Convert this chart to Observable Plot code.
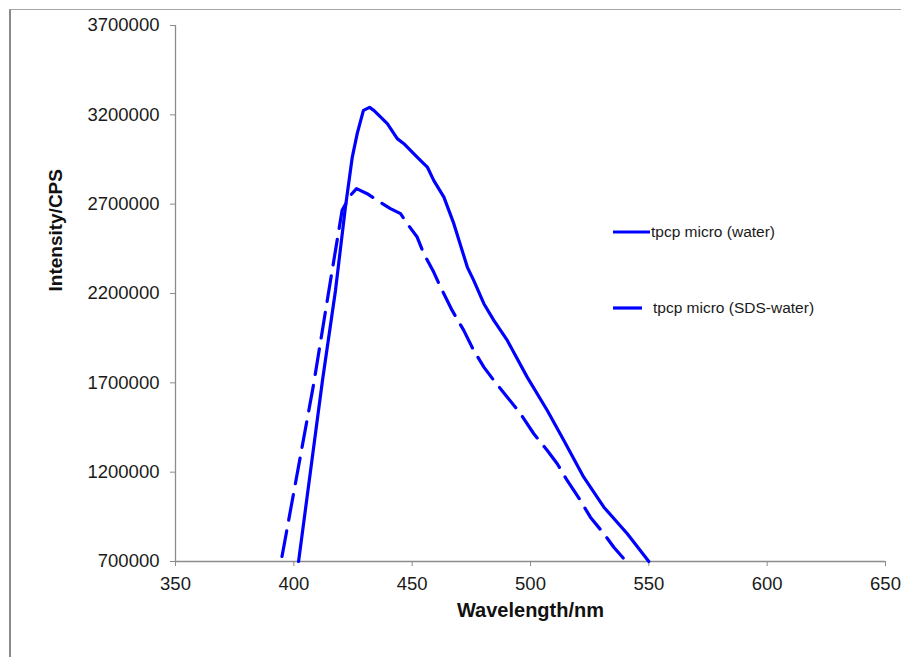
<!DOCTYPE html>
<html>
<head>
<meta charset="utf-8">
<script src="https://cdn.jsdelivr.net/npm/d3@7"></script>
<script src="https://cdn.jsdelivr.net/npm/@observablehq/plot@0.6"></script>
<style>
  html, body { margin: 0; padding: 0; background: #fff; overflow: hidden; }
  #wrap { position: relative; width: 901px; height: 657px; font-family: "Liberation Sans", Arial, sans-serif; }
  #frame { position: absolute; left: 9px; top: 9px; width: 1000px; height: 1000px;
           border-left: 2px solid #8a8a8a; border-top: 1px solid #a6a6a6; pointer-events: none; z-index: 2; }
  #legend { position: absolute; left: 0; top: 0; z-index: 3; }
</style>
</head>
<body>
<div id="wrap"><div id="frame"></div></div>
<script>
// ---- data ----
const waterNm = [402.0, 412.1, 417.6, 421.8, 424.7, 426.8, 429.4, 432.0, 433.8, 439.5, 443.7, 446.5, 449.3, 452.1, 456.4, 459.1, 463.4, 467.6, 473.3, 476.0, 480.3, 484.5, 490.2, 498.6, 507.1, 514.1, 522.5, 531.0, 540.9, 550.0];
const waterI  = [700000, 1713400, 2217300, 2683700, 2963700, 3096400, 3225100, 3241900, 3225100, 3150700, 3066700, 3038700, 3001200, 2963700, 2907700, 2833200, 2739700, 2590800, 2347800, 2273300, 2142900, 2049400, 1937400, 1731900, 1545400, 1377500, 1172000, 1004000, 855100, 700000];

const sdsNm = [395.0, 408.4, 415.5, 418.3, 420.4, 421.8, 423.9, 426.5, 431.0, 435.2, 440.8, 445.1, 447.9, 452.1, 454.9, 459.1, 462.0, 466.9, 471.8, 476.0, 480.3, 484.5, 490.2, 495.8, 501.4, 507.1, 511.3, 515.5, 521.1, 525.3, 531.0, 535.2, 540.1];
const sdsI  = [728000, 1694900, 2273300, 2497300, 2665200, 2698800, 2749200, 2786700, 2758700, 2721200, 2674800, 2646800, 2590800, 2515800, 2422800, 2319800, 2235800, 2105300, 1993400, 1881400, 1787900, 1713400, 1619900, 1527000, 1415000, 1321500, 1247000, 1153500, 1041500, 948000, 855100, 780100, 705600];

const seriesNames = ["tpcp micro (water)", "tpcp micro (SDS-water)"];
const xTicks = [350, 400, 450, 500, 550, 600, 650];
const yTicks = [700000, 1200000, 1700000, 2200000, 2700000, 3200000, 3700000];
const xTitle = "Wavelength/nm";
const yTitle = "Intensity/CPS";

// ---- build tables ----
const water = waterNm.map((x, i) => ({x, y: waterI[i]}));
const sds = sdsNm.map((x, i) => ({x, y: sdsI[i]}));

const blue = "#0000ff";
const axisGray = "#8c8c8c";

const chart = Plot.plot({
  width: 901,
  height: 657,
  marginLeft: 175,
  marginRight: 16,
  marginTop: 25,
  marginBottom: 96,
  style: {fontFamily: "'Liberation Sans', Arial, sans-serif", background: "transparent", color: "#1a1a1a"},
  x: {domain: [350, 650]},
  y: {domain: [700000, 3700000]},
  marks: [
    Plot.axisX({ticks: xTicks, tickSize: 5, tickPadding: 10, fontSize: 18.5, stroke: axisGray, label: null, tickFormat: d3.format("d")}),
    Plot.axisY({ticks: yTicks, tickSize: 5, tickPadding: 11, fontSize: 18.5, stroke: axisGray, label: null, tickFormat: d3.format("d")}),
    Plot.ruleX([350], {stroke: axisGray, strokeWidth: 1.3}),
    Plot.ruleY([700000], {stroke: axisGray, strokeWidth: 1.3}),
    Plot.line(sds, {x: "x", y: "y", stroke: blue, strokeWidth: 3.2, strokeDasharray: "26,11", strokeLinejoin: "round"}),
    Plot.line(water, {x: "x", y: "y", stroke: blue, strokeWidth: 3.2, strokeLinejoin: "round", strokeLinecap: "round"}),
    Plot.text([xTitle], {frameAnchor: "bottom", dy: 55, fontSize: 20, fontWeight: "bold", fill: "#111"}),
    Plot.text([yTitle], {frameAnchor: "left", rotate: -90, dx: -120, dy: -2, fontSize: 19, fontWeight: "bold", fill: "#111"})
  ]
});
document.getElementById("wrap").appendChild(chart);

// ---- legend overlay ----
const legendDash = [null, "30,11"];
const legendLen = [37, 29];
const legendRowY = [232, 308];
const lg = d3.select("#wrap").append("svg").attr("id", "legend").attr("width", 901).attr("height", 657);
seriesNames.forEach((name, i) => {
  lg.append("line").attr("x1", 613).attr("x2", 613 + legendLen[i]).attr("y1", legendRowY[i]).attr("y2", legendRowY[i])
    .attr("stroke", blue).attr("stroke-width", 3.2).attr("stroke-dasharray", legendDash[i]);
  lg.append("text").attr("x", i === 0 ? 651 : 653).attr("y", legendRowY[i]).attr("dy", "0.35em")
    .attr("font-family", "'Liberation Sans', Arial, sans-serif").attr("font-size", 15.5).attr("fill", "#1a1a1a")
    .text(name);
});
</script>
</body>
</html>
